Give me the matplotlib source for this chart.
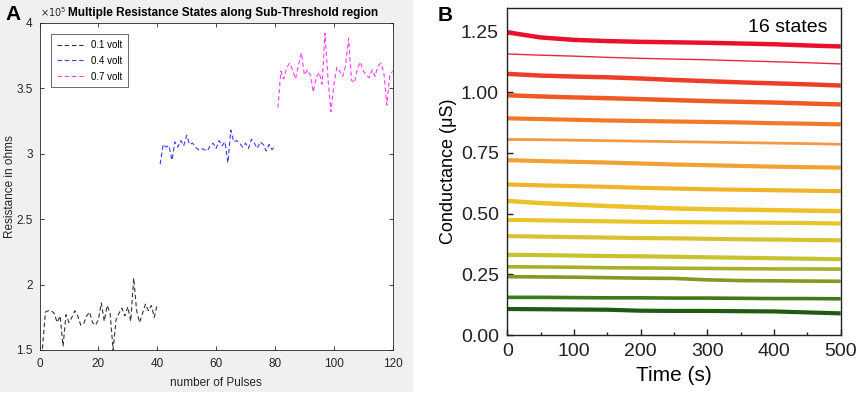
import numpy as np
import matplotlib
matplotlib.use("Agg")
import matplotlib.pyplot as plt
from matplotlib.patches import Rectangle
from matplotlib.ticker import FuncFormatter, MultipleLocator

plt.rcParams['font.family'] = ['Liberation Sans', 'DejaVu Sans']

# Panel A data (resistance in ohms vs pulse number)
pulses_01 = np.arange(1, 41)
res_01 = np.array([1.51, 1.79, 1.80, 1.80, 1.78, 1.71, 1.76, 1.53, 1.77, 1.71,
                   1.75, 1.80, 1.76, 1.69, 1.70, 1.76, 1.79, 1.71, 1.69, 1.73,
                   1.86, 1.72, 1.84, 1.78, 1.50, 1.73, 1.78, 1.82, 1.76, 1.83,
                   1.72, 2.05, 1.80, 1.71, 1.78, 1.85, 1.80, 1.84, 1.75, 1.85]) * 1e5
pulses_04 = np.arange(41, 81)
res_04 = np.array([2.92, 3.07, 3.05, 3.06, 2.95, 3.09, 3.05, 3.10, 3.06, 3.14,
                   3.07, 3.08, 3.05, 3.03, 3.04, 3.03, 3.02, 3.06, 3.08, 3.04,
                   3.10, 3.06, 3.09, 2.93, 3.18, 3.09, 3.10, 3.08, 3.05, 3.08,
                   3.04, 3.11, 3.08, 3.04, 3.09, 3.07, 3.02, 3.07, 3.03, 3.06]) * 1e5
pulses_07 = np.arange(81, 121)
res_07 = np.array([3.35, 3.63, 3.57, 3.66, 3.69, 3.64, 3.57, 3.68, 3.77, 3.60,
                   3.64, 3.60, 3.47, 3.58, 3.62, 3.53, 3.92, 3.58, 3.32, 3.52,
                   3.66, 3.63, 3.59, 3.67, 3.88, 3.56, 3.54, 3.65, 3.70, 3.63,
                   3.60, 3.58, 3.64, 3.59, 3.67, 3.69, 3.62, 3.37, 3.60, 3.63]) * 1e5
labels_a = ['0.1 volt', '0.4 volt', '0.7 volt']

# Panel B data (conductance in uS vs time, read every 50 s)
time_b = [0, 50, 100, 150, 200, 250, 300, 350, 400, 450, 500]
states_b = [
    [1.246, 1.225, 1.215, 1.210, 1.207, 1.205, 1.203, 1.200, 1.197, 1.192, 1.188],
    [1.157, 1.152, 1.148, 1.143, 1.139, 1.136, 1.133, 1.129, 1.125, 1.121, 1.116],
    [1.075, 1.068, 1.064, 1.061, 1.056, 1.050, 1.045, 1.040, 1.036, 1.032, 1.027],
    [0.987, 0.982, 0.978, 0.975, 0.971, 0.967, 0.963, 0.960, 0.957, 0.953, 0.949],
    [0.892, 0.889, 0.886, 0.883, 0.881, 0.879, 0.877, 0.875, 0.872, 0.870, 0.867],
    [0.805, 0.804, 0.802, 0.800, 0.798, 0.796, 0.794, 0.792, 0.790, 0.788, 0.785],
    [0.720, 0.716, 0.713, 0.710, 0.706, 0.702, 0.699, 0.696, 0.693, 0.691, 0.689],
    [0.620, 0.616, 0.613, 0.610, 0.606, 0.603, 0.600, 0.598, 0.596, 0.594, 0.592],
    [0.552, 0.543, 0.537, 0.531, 0.526, 0.521, 0.518, 0.516, 0.514, 0.512, 0.510],
    [0.474, 0.472, 0.470, 0.468, 0.466, 0.465, 0.464, 0.463, 0.462, 0.461, 0.459],
    [0.407, 0.405, 0.403, 0.401, 0.399, 0.398, 0.396, 0.394, 0.393, 0.391, 0.390],
    [0.330, 0.329, 0.327, 0.325, 0.324, 0.322, 0.320, 0.318, 0.316, 0.314, 0.312],
    [0.281, 0.280, 0.279, 0.277, 0.276, 0.275, 0.274, 0.273, 0.272, 0.272, 0.271],
    [0.240, 0.239, 0.238, 0.236, 0.234, 0.233, 0.227, 0.224, 0.223, 0.222, 0.221],
    [0.155, 0.155, 0.154, 0.153, 0.153, 0.152, 0.152, 0.151, 0.150, 0.150, 0.149],
    [0.107, 0.106, 0.105, 0.104, 0.100, 0.099, 0.099, 0.098, 0.097, 0.093, 0.089],
]
colors_b = ['#e8102a', '#e42a3c', '#ec3d26', '#ee5a24', '#f07a2a', '#f39a45',
            '#f0a232', '#eeb52c', '#ecc12a', '#e6c62a', '#d9c232', '#c8c22e',
            '#a9b02a', '#809a22', '#3f7a1a', '#1f5a12']
widths_b = [3.2, 1.0, 3.2, 3.2, 3.0, 2.0, 3.0, 3.0, 3.2, 3.0, 3.0, 3.0, 2.6, 2.6, 2.6, 3.0]

fig = plt.figure(figsize=(8.58, 3.94), dpi=100)
fig.patches.append(Rectangle((0, 0.005), 413 / 858, 0.995, transform=fig.transFigure,
                             facecolor='#f0f0f0', edgecolor='none', zorder=-5))

# ---- Panel A ----
axA = fig.add_axes([39.5 / 858, 44 / 394, 353.2 / 858, 327.3 / 394])
axA.plot(pulses_01, res_01, ls='--', color='#333333', lw=0.8, dashes=(4, 2.5), label=labels_a[0])
axA.plot(pulses_04, res_04, ls='--', color='#3a3aff', lw=0.8, dashes=(4, 2.5), label=labels_a[1])
axA.plot(pulses_07, res_07, ls='--', color='#ff3cff', lw=0.8, dashes=(4, 2.5), label=labels_a[2])
axA.set_xlim(0, 120)
axA.set_ylim(1.5e5, 4e5)
axA.set_xticks(np.arange(0, 121, 20))
axA.set_yticks(np.arange(1.5e5, 4.01e5, 0.5e5))
axA.yaxis.set_major_formatter(FuncFormatter(lambda v, _: f"{v / 1e5:g}"))
axA.tick_params(direction='in', top=True, right=True, labelsize=8.5, colors='#262626',
                length=3, width=0.6)
axA.tick_params(axis='x', pad=6)
axA.tick_params(axis='y', pad=5)
for s in axA.spines.values():
    s.set_color('#262626')
    s.set_linewidth(0.6)
axA.set_xlabel('number of Pulses', fontsize=8.5, color='#262626', labelpad=5)
axA.set_ylabel('Resistance in ohms', fontsize=8.5, color='#262626')
axA.yaxis.set_label_coords(-0.066, 0.5)
axA.set_title('Multiple Resistance States along Sub-Threshold region', fontsize=8.5,
              fontweight='bold', pad=5, x=0.52)
axA.text(0.0, 1.012, r'$\times10^5$', transform=axA.transAxes, fontsize=7,
         color='#262626', ha='left', va='bottom')
leg = axA.legend(loc='upper left', bbox_to_anchor=(0.032, 0.965), fontsize=7,
                 frameon=True, fancybox=False, edgecolor='#262626', handlelength=3.0,
                 handletextpad=0.5, borderpad=0.6, labelspacing=0.6, borderaxespad=0)
leg.get_frame().set_linewidth(0.6)
fig.text(5 / 858, 1 - 20 / 394, 'A', fontsize=15, fontweight='bold', ha='left', va='baseline')

# ---- Panel B ----
axB = fig.add_axes([507.3 / 858, 59 / 394, 333.4 / 858, 326.7 / 394])
for vals, c, w in zip(states_b, colors_b, widths_b):
    axB.plot(time_b, vals, color=c, lw=w, solid_capstyle='butt')
axB.set_xlim(0, 500)
axB.set_ylim(0, 1.345)
axB.set_xticks(np.arange(0, 501, 100))
axB.xaxis.set_minor_locator(MultipleLocator(50))
axB.set_yticks([0, 0.25, 0.5, 0.75, 1.0, 1.25])
axB.yaxis.set_major_formatter(FuncFormatter(lambda v, _: f"{v:.2f}"))
axB.tick_params(which='both', direction='in', labelsize=14, colors='#222222', width=1)
axB.tick_params(which='major', length=4)
axB.tick_params(which='minor', length=2.5)
axB.tick_params(axis='x', pad=6)
axB.tick_params(axis='y', pad=6)
for s in axB.spines.values():
    s.set_color('#222222')
    s.set_linewidth(1)
axB.set_xlabel('Time (s)', fontsize=15, labelpad=4)
axB.set_ylabel('Conductance (\u03bcS)', fontsize=13, labelpad=3)
axB.text(0.842, 0.94, '16 states', transform=axB.transAxes, fontsize=14,
         ha='center', va='center')
fig.text(438 / 858, 1 - 21 / 394, 'B', fontsize=15, fontweight='bold', ha='left', va='baseline')

fig.savefig('out.png', dpi=100)
